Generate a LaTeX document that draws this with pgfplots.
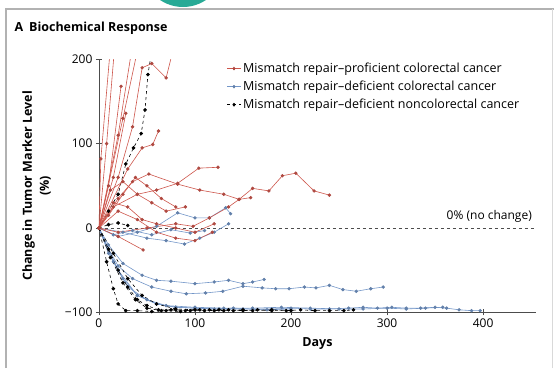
\documentclass[border=0pt]{standalone}
\usepackage{pgfplots}
\pgfplotsset{compat=1.18}
\usepackage{fontspec}
\setmainfont{Open Sans}
\definecolor{rpro}{RGB}{205,85,75}
\definecolor{bdef}{RGB}{115,150,200}
\definecolor{tealc}{RGB}{40,170,150}
\begin{document}
\begin{tikzpicture}[x=1pt,y=1pt]
\begin{scope}
\clip (0,0) rectangle (554,368);
\fill[tealc] (183,402) circle (41);
\end{scope}
\draw[black!30, line width=2.5pt] (6,0) -- (6,359) -- (554,359);
\draw[black!15, line width=1pt] (552,0) -- (552,359);
\node[anchor=west, font=\bfseries\fontsize{12.5}{14}\selectfont] at (11,340) {A\hspace{6pt}Biochemical Response};
\begin{axis}[
  at={(103,66)}, anchor=south west,
  scale only axis, width=437pt, height=253pt,
  xmin=0, xmax=455, ymin=-100, ymax=200,
  axis x line=bottom, axis y line=left,
  axis line style={-, black!70, line width=0.7pt},
  xtick={0,100,200,300,400}, ytick={-100,0,100,200},
  tick align=center, major tick length=6pt,
  tick style={black!70, line width=0.6pt},
  ticklabel style={font=\fontsize{12}{14}\selectfont},
  /pgf/number format/assume math mode=true,
  yticklabels={\textminus100,0,100,200},
  xlabel={\bfseries Days}, xlabel style={font=\fontsize{12.5}{14}\selectfont, yshift=-3pt},
  ylabel={\bfseries\begin{tabular}{c}Change in Tumor Marker Level\\(\%)\end{tabular}},
  ylabel style={font=\fontsize{12.5}{17}\selectfont, yshift=4pt},
  legend style={at={(0.29,0.998)}, anchor=north west, draw=none, fill=none,
    font=\fontsize{12.5}{14}\selectfont, row sep=3pt, inner sep=1pt},
  legend cell align=left,
  legend image post style={xscale=0.8},
  every axis plot/.append style={line width=0.6pt},
  rl/.style={rpro, mark=*, mark size=1.4pt, mark options={fill=rpro!85!black, draw=rpro!85!black}},
  bl/.style={bdef, mark=*, mark size=1.4pt, mark options={fill=bdef!85!black, draw=bdef!85!black}},
  kl/.style={black, dashed, mark=*, mark size=1.5pt, mark options={solid, fill=black}},
]
\addlegendimage{rl}
\addlegendentry{Mismatch repair–proficient colorectal cancer}
\addlegendimage{bl}
\addlegendentry{Mismatch repair–deficient colorectal cancer}
\addlegendimage{kl}
\addlegendentry{Mismatch repair–deficient noncolorectal cancer}
\draw[black!70, dashed, line width=0.6pt] (axis cs:0,0) -- (axis cs:455,0);
\node[anchor=south east, font=\fontsize{12}{14}\selectfont, inner sep=1pt] at (axis cs:452,5) {0\% (no change)};
% blue series
\addplot[bl, forget plot] coordinates {(0,0)(10,-25)(20,-45)(35,-60)(55,-70)(75,-75)(91,-78)(111,-77)(129,-75)(150,-69)(170,-71)(184,-72)(198,-72)(214,-70)(226,-71)(240,-68)(254,-73)(268,-75)(283,-72)(296,-70)};
\addplot[bl, forget plot] coordinates {(0,0)(10,-20)(25,-42)(45,-56)(60,-62)(75,-63)(100,-66)(120,-64)(135,-62)(150,-66)(160,-64)(172,-61)};
\addplot[bl, forget plot] coordinates {(0,0)(10,-30)(25,-60)(40,-80)(60,-90)(80,-94)(100,-95)(120,-96)(140,-95)(160,-96)(180,-96)(200,-95)(220,-96)(240,-96)(260,-95)(275,-94)(290,-95)(305,-94)(320,-95)(335,-95)(350,-94)(362,-95)(375,-97)(388,-98)(397,-98)};
\addplot[bl, forget plot] coordinates {(0,0)(15,-40)(30,-70)(50,-85)(70,-92)(100,-94)(130,-95)(160,-95)(190,-94)(220,-95)(250,-96)(275,-96)(300,-95)(320,-96)(340,-95)(358,-94)};
\addplot[bl, forget plot] coordinates {(0,0)(20,-50)(40,-80)(60,-90)(80,-94)(100,-95)(125,-96)(150,-96)(175,-97)(200,-96)};
\addplot[bl, forget plot] coordinates {(0,0)(20,-10)(40,-5)(60,2)(82,18)(100,12)(115,12)(132,24)(137,17)};
\addplot[bl, forget plot] coordinates {(0,0)(25,-5)(50,-12)(70,-15)(89,-19)(105,-12)(120,-5)(135,5)};
\addplot[bl, forget plot] coordinates {(0,0)(15,-8)(35,-3)(55,-8)(75,-2)(95,-6)(110,-3)};
% black dashed
\addplot[kl, forget plot] coordinates {(0,0)(8,-40)(15,-72)(20,-90)(28,-98)(40,-98)(55,-99)(70,-98)(85,-99)};
\addplot[kl, forget plot] coordinates {(0,0)(10,-25)(20,-50)(30,-70)(40,-85)(50,-92)(62,-97)(75,-97)(90,-98)(105,-97)(120,-98)(135,-97)(150,-98)(165,-97)(180,-98)(195,-98)(210,-97)(225,-98)(240,-98)(255,-98)(265,-97)};
\addplot[kl, forget plot] coordinates {(0,0)(15,-30)(30,-60)(45,-80)(60,-90)(80,-96)(100,-97)(115,-97)(130,-98)(150,-97)};
\addplot[kl, forget plot] coordinates {(0,0)(12,-35)(25,-65)(38,-85)(50,-95)(65,-98)(80,-97)(95,-98)(110,-98)(125,-97)(140,-98)(160,-98)(180,-97)(200,-98)};
\addplot[kl, forget plot] coordinates {(0,0)(10,20)(20,40)(28,76)(36,95)(44,112)(48,140)(51,182)(55,210)};
\addplot[kl, forget plot] coordinates {(0,0)(10,4)(20,6)(30,3)};
% red series
\addplot[rl, forget plot] coordinates {(0,0)(2,82)(12,215)};
\addplot[rl, forget plot] coordinates {(0,0)(8,100)(16,210)};
\addplot[rl, forget plot] coordinates {(0,0)(20,110)(34,210)};
\addplot[rl, forget plot] coordinates {(0,0)(25,130)(40,210)};
\addplot[rl, forget plot] coordinates {(0,0)(10,50)(23,168)};
\addplot[rl, forget plot] coordinates {(0,0)(15,60)(28,136)};
\addplot[rl, forget plot] coordinates {(0,0)(30,70)(45,95)(56,99)(62,115)};
\addplot[rl, forget plot] coordinates {(0,0)(20,60)(35,120)(45,190)(55,195)(70,178)(78,215)};
\addplot[rl, forget plot] coordinates {(0,0)(20,35)(35,55)(52,64)(82,52)(105,45)(130,40)(146,34)(158,36)};
\addplot[rl, forget plot] coordinates {(0,0)(15,25)(40,40)(60,45)(82,53)(104,71)(124,72)};
\addplot[rl, forget plot] coordinates {(0,0)(20,-5)(50,0)(80,5)(98,2)(115,12)(135,25)(146,34)(160,47)(177,44)(191,62)(205,65)(224,44)(240,39)};
\addplot[rl, forget plot] coordinates {(0,0)(20,-10)(46,-26)};
\addplot[rl, forget plot] coordinates {(0,0)(20,20)(40,10)(60,-5)(80,-12)(100,-15)(118,-5)};
\addplot[rl, forget plot] coordinates {(0,0)(15,30)(30,25)(45,10)(60,5)(80,0)(100,-5)(120,5)};
\addplot[rl, forget plot] coordinates {(0,0)(12,45)(25,55)(40,40)(55,30)(70,20)(90,25)};
\addplot[rl, forget plot] coordinates {(0,0)(10,15)(25,40)(38,60)(50,50)(65,35)(80,25)};
\end{axis}
\pgfresetboundingbox
\useasboundingbox (0,0) rectangle (554,368);
\end{tikzpicture}
\end{document}
